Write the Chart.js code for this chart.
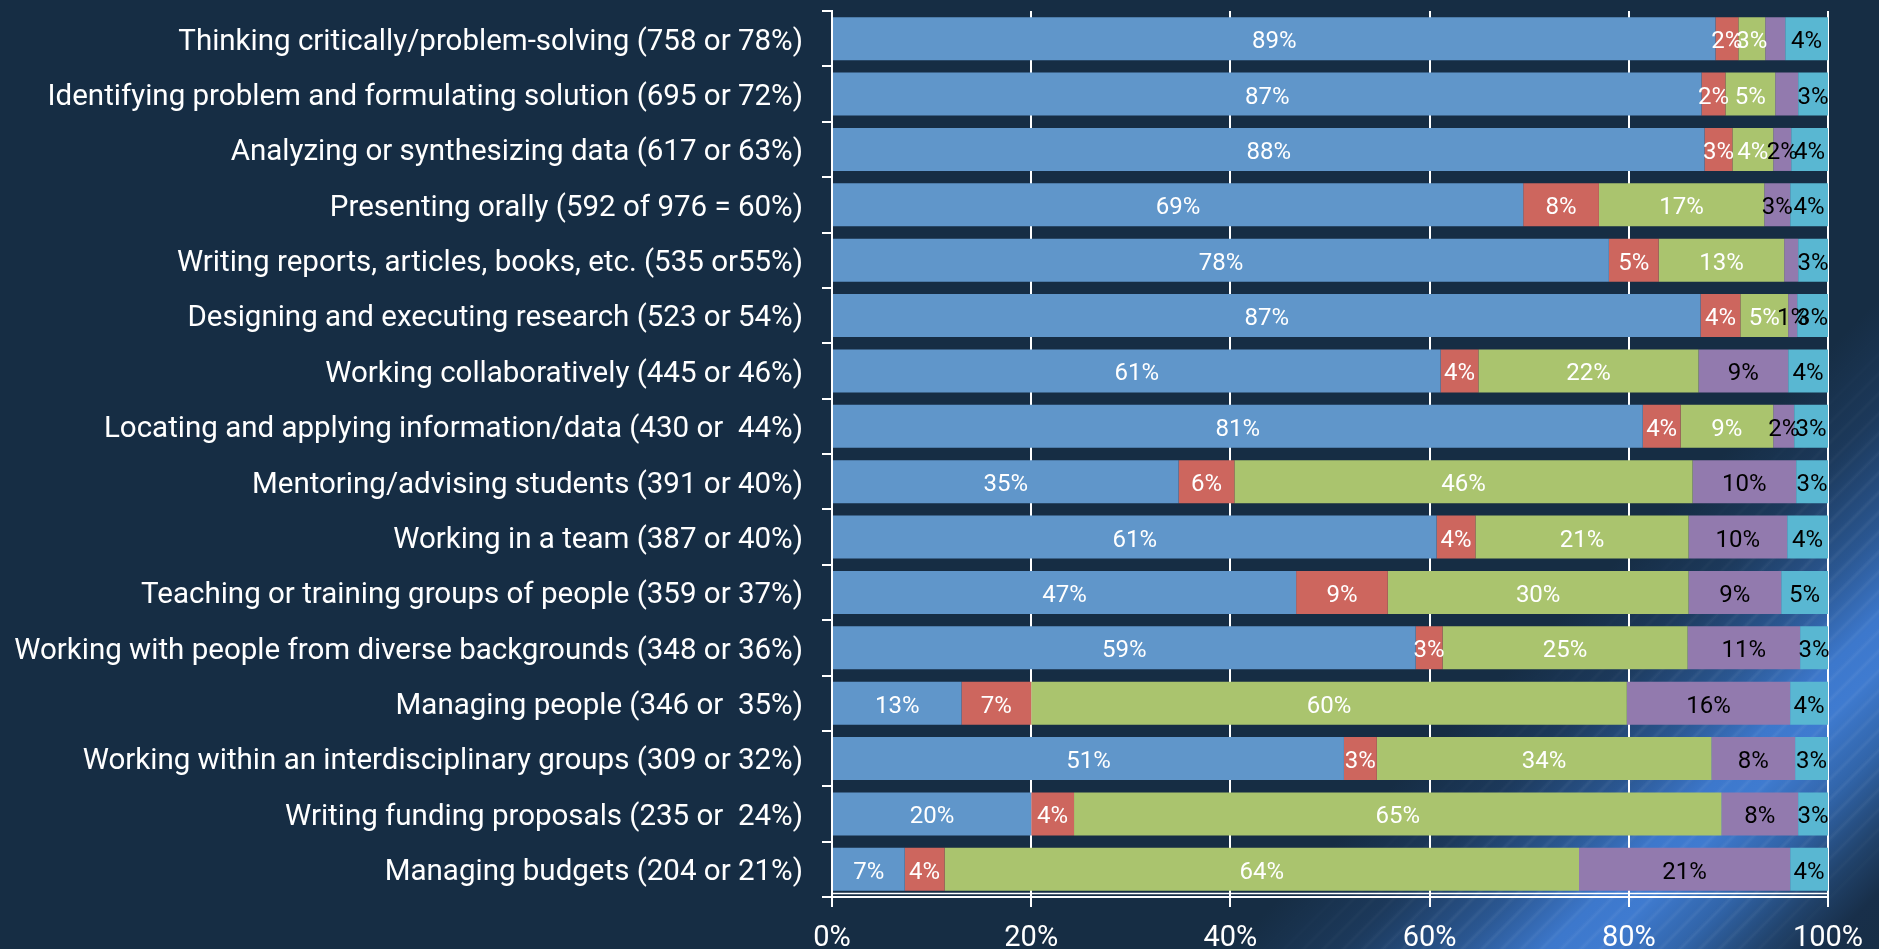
<!DOCTYPE html>
<html>
<head>
<meta charset="utf-8">
<script src="https://cdn.jsdelivr.net/npm/chart.js@4/dist/chart.umd.min.js"></script>
<style>
html, body { margin: 0; padding: 0; width: 1879px; height: 949px; overflow: hidden; }
body {
  background: linear-gradient(135deg, #162d44 0%, #162d44 77%, #1c395b 81%, #2a5690 85%, #3d78cc 88.3%, #3f7bd0 90%, #3164a8 93%, #21436c 95.8%, #182f4a 98%, #172e46 100%);
}
#wrap { position: relative; width: 1879px; height: 949px; }
#stripes {
  position: absolute; left: 0; top: 0; width: 1879px; height: 949px;
  background: repeating-linear-gradient(135deg, rgba(255,255,255,0) 0px, rgba(255,255,255,0) 8px, rgba(255,255,255,0.06) 11px, rgba(255,255,255,0) 14px);
  -webkit-mask-image: linear-gradient(135deg, rgba(0,0,0,0) 77.5%, rgba(0,0,0,1) 84%, rgba(0,0,0,1) 94%, rgba(0,0,0,0) 97.5%);
  mask-image: linear-gradient(135deg, rgba(0,0,0,0) 77.5%, rgba(0,0,0,1) 84%, rgba(0,0,0,1) 94%, rgba(0,0,0,0) 97.5%);
}
canvas { position: absolute; left: 0; top: 0; }
</style>
</head>
<body>
<div id="wrap">
  <div id="stripes"></div>
  <canvas id="chart" width="1879" height="949"></canvas>
</div>
<script>
const categories = [
  "Thinking critically/problem-solving (758 or 78%)",
  "Identifying problem and formulating solution (695 or 72%)",
  "Analyzing or synthesizing data (617 or 63%)",
  "Presenting orally (592 of 976 = 60%)",
  "Writing reports, articles, books, etc. (535 or55%)",
  "Designing and executing research (523 or 54%)",
  "Working collaboratively (445 or 46%)",
  "Locating and applying information/data (430 or  44%)",
  "Mentoring/advising students (391 or 40%)",
  "Working in a team (387 or 40%)",
  "Teaching or training groups of people (359 or 37%)",
  "Working with people from diverse backgrounds (348 or 36%)",
  "Managing people (346 or  35%)",
  "Working within an interdisciplinary groups (309 or 32%)",
  "Writing funding proposals (235 or  24%)",
  "Managing budgets (204 or 21%)"
];

const series1 = [88.7, 87.3, 87.6, 69.4, 78.0, 87.2, 61.1, 81.4, 34.8, 60.7, 46.6, 58.6, 13.0, 51.4, 20.0, 7.3];
const series2 = [2.3, 2.4, 2.8, 7.6, 5.0, 4.0, 3.8, 3.8, 5.6, 3.9, 9.2, 2.7, 7.0, 3.3, 4.3, 4.0];
const series3 = [2.7, 5.0, 4.1, 16.6, 12.6, 4.8, 22.1, 9.3, 46.0, 21.4, 30.2, 24.6, 59.8, 33.6, 65.0, 63.7];
const series4 = [2.0, 2.3, 1.8, 2.6, 1.4, 0.9, 9.0, 2.1, 10.4, 9.9, 9.3, 11.3, 16.4, 8.4, 7.7, 21.2];
const series5 = [4.3, 3.0, 3.7, 3.8, 3.0, 3.1, 4.0, 3.4, 3.2, 4.1, 4.7, 2.8, 3.8, 3.3, 3.0, 3.8];

const seriesNames = ["Series 1", "Series 2", "Series 3", "Series 4", "Series 5"];
const xTickLabels = ["0%", "20%", "40%", "60%", "80%", "100%"];
// [seriesIndex, rowIndex] of labels not shown in the original
const hiddenLabels = [[3, 0], [3, 1], [3, 4]];

const seriesColors = ["#6096ca", "#cd665e", "#aac46e", "#927aae", "#59b7d2"];
const labelColors = ["#ffffff", "#ffffff", "#ffffff", "#000000", "#000000"];

const FONT = "Roboto";

const segmentLabels = {
  id: "segmentLabels",
  afterDatasetsDraw(chart) {
    const ctx = chart.ctx;
    ctx.save();
    ctx.font = "24px " + FONT;
    ctx.textAlign = "center";
    ctx.textBaseline = "middle";
    chart.data.datasets.forEach((ds, di) => {
      const meta = chart.getDatasetMeta(di);
      meta.data.forEach((el, i) => {
        if (hiddenLabels.some(h => h[0] === di && h[1] === i)) return;
        const v = ds.data[i];
        const cx = (el.x + el.base) / 2;
        ctx.fillStyle = labelColors[di];
        ctx.fillText(Math.round(v) + "%", cx, el.y + 3.5);
      });
    });
    ctx.restore();
  }
};

const doubleAxisLine = {
  id: "doubleAxisLine",
  afterDraw(chart) {
    const a = chart.chartArea;
    const ctx = chart.ctx;
    ctx.save();
    ctx.strokeStyle = "#ffffff";
    ctx.lineWidth = 1.5;
    ctx.beginPath();
    ctx.moveTo(a.left, a.bottom - 3.5);
    ctx.lineTo(a.right, a.bottom - 3.5);
    ctx.stroke();
    ctx.restore();
  }
};

const seriesList = [series1, series2, series3, series4, series5];

new Chart(document.getElementById("chart"), {
  type: "bar",
  data: {
    labels: categories,
    datasets: seriesList.map((d, i) => ({
      label: seriesNames[i],
      data: d,
      backgroundColor: seriesColors[i],
      borderWidth: 0,
      barPercentage: 0.777,
      categoryPercentage: 1.0
    }))
  },
  options: {
    indexAxis: "y",
    responsive: false,
    animation: false,
    devicePixelRatio: 1,
    layout: { padding: { top: 11, right: 51, left: 0, bottom: 0 } },
    plugins: {
      legend: { display: false },
      tooltip: { enabled: false },
      title: { display: false }
    },
    scales: {
      x: {
        stacked: true,
        min: 0,
        max: 100,
        position: "bottom",
        ticks: {
          stepSize: 20,
          color: "#ffffff",
          font: { family: FONT, size: 29 },
          padding: 14,
          callback: (v) => xTickLabels[Math.round(v / 20)]
        },
        grid: {
          color: "#ffffff",
          lineWidth: 2,
          tickLength: 10,
          drawTicks: true
        },
        border: { display: true, color: "#ffffff", width: 2 },
        afterFit: (s) => { s.height = 52; }
      },
      y: {
        stacked: true,
        ticks: {
          color: "#ffffff",
          font: { family: FONT, size: 29.5 },
          padding: 19,
          labelOffset: 3.5,
          autoSkip: false
        },
        grid: {
          drawOnChartArea: false,
          drawTicks: true,
          tickLength: 10,
          color: "#ffffff",
          lineWidth: 2,
          offset: true
        },
        border: { display: true, color: "#ffffff", width: 2 },
        afterFit: (s) => { s.width = 832; s.paddingTop = 0; s.paddingBottom = 0; }
      }
    }
  },
  plugins: [segmentLabels, doubleAxisLine]
});
</script>
</body>
</html>
